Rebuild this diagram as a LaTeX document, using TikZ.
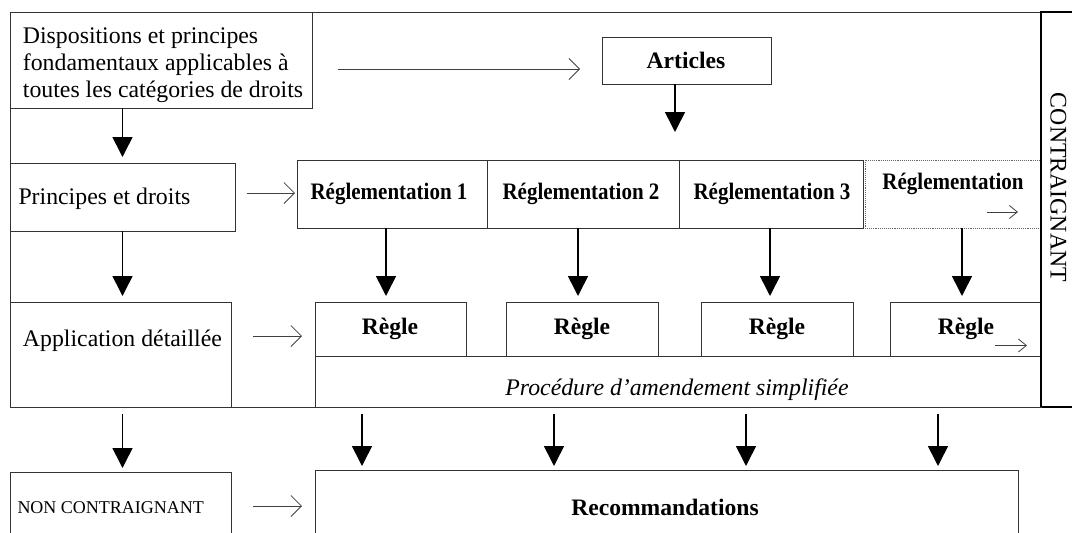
\documentclass[tikz,border=0pt]{standalone}
\usepackage{fontspec}
\setmainfont{Liberation Serif}
\newfontfamily\condserif[FakeStretch=0.89]{Liberation Serif}
\usetikzlibrary{arrows.meta}
\tikzset{
  box/.style={draw=black!80, line width=0.9pt, inner sep=0pt, outer sep=0pt, anchor=north west},
  txt/.style={inner sep=0pt, font=\fontsize{23.8}{27}\selectfont},
  btxt/.style={inner sep=0pt, font=\fontsize{23.6}{27}\selectfont\bfseries},
  rtxt/.style={inner sep=0pt, font=\fontsize{23.6}{27}\condserif\bfseries},
  downarr/.style={line width=1.6pt, black, -{Triangle[length=20pt,width=20pt]}},
  openarr/.style={line width=0.8pt, black!75, -{Straight Barb[length=10.5pt,width=21pt,line width=0.8pt]}},
  smallarr/.style={line width=0.8pt, black!75, -{Straight Barb[length=8pt,width=13pt,line width=0.8pt]}},
}
\begin{document}
\begin{tikzpicture}[x=1pt,y=-1pt]
\useasboundingbox (0,0) rectangle (1072,533);
\clip (0,0) rectangle (1072,533);
% outer frame
\node[box, minimum width=1031pt, minimum height=395pt] (frame) at (10,12) {};
\node[box, draw=black, line width=1.8pt, minimum width=60pt, minimum height=395pt] (contr) at (1041,12) {};
% boxes
\node[box, minimum width=302pt, minimum height=96pt] (disp) at (10,12) {};
\node[box, minimum width=169pt, minimum height=47pt] (art) at (602,37) {};
\node[box, minimum width=225pt, minimum height=68pt] (prin) at (10,163) {};
\node[box, minimum width=190pt, minimum height=68pt] (reg1) at (297,160) {};
\node[box, minimum width=192pt, minimum height=68pt] (reg2) at (487,160) {};
\node[box, minimum width=184pt, minimum height=68pt] (reg3) at (679,160) {};
\node[box, draw=black!60, densely dotted, minimum width=176pt, minimum height=68pt] (reg4) at (865,160) {};
\node[box, minimum width=221pt, minimum height=105pt] (app) at (10,302) {};
\node[box, minimum width=151pt, minimum height=54pt] (rgl1) at (315,302) {};
\node[box, minimum width=152pt, minimum height=54pt] (rgl2) at (506,302) {};
\node[box, minimum width=152pt, minimum height=54pt] (rgl3) at (701,302) {};
\node[box, minimum width=151pt, minimum height=54pt] (rgl4) at (890,302) {};
\node[box, minimum width=726pt, minimum height=51pt] (proc) at (315,356) {};
\node[box, minimum width=221pt, minimum height=90pt] (non) at (10,472) {};
\node[box, minimum width=703pt, minimum height=90pt] (rec) at (315,470) {};
\draw[draw=black, line width=1.8pt] (contr.north west) -- (contr.south west);
% texts
\node[txt, anchor=base west] (t1) at (22.7,43) {Dispositions et principes};
\node[txt, anchor=base west] (t2) at (22.7,70) {fondamentaux applicables à};
\node[txt, anchor=base west] (t3) at (22.7,97) {toutes les catégories de droits};
\node[btxt, anchor=base] (tart) at (686,68) {Articles};
\node[txt, anchor=base west] (tprin) at (18.3,204) {Principes et droits};
\node[rtxt, anchor=base] (tr1) at (389,199.5) {Réglementation 1};
\node[rtxt, anchor=base] (tr2) at (581,199.5) {Réglementation 2};
\node[rtxt, anchor=base] (tr3) at (772,199.5) {Réglementation 3};
\node[rtxt, anchor=base] (tr4) at (953,189.5) {Réglementation};
\node[txt, anchor=base west] (tapp) at (22.8,346) {Application détaillée};
\node[btxt, anchor=base] (tg1) at (390,334) {Règle};
\node[btxt, anchor=base] (tg2) at (582,334) {Règle};
\node[btxt, anchor=base] (tg3) at (777,334) {Règle};
\node[btxt, anchor=base] (tg4) at (966,334) {Règle};
\node[txt, anchor=base, font=\fontsize{23.8}{27}\selectfont\itshape] (tproc) at (677,395) {Procédure d’amendement simplifiée};
\node[txt, anchor=base west, font=\fontsize{18}{20}\selectfont] (tnon) at (17.3,513) {NON CONTRAIGNANT};
\node[btxt, anchor=base] (trec) at (665,515) {Recommandations};
\node[txt, anchor=base, rotate=-90] (tcon) at (1050.5,187.5) {CONTRAIGNANT};
% arrows
\draw[downarr, shorten >=6pt] (prin.north |- disp.south) -- (prin.north);
\draw[openarr, shorten <=26pt, shorten >=22pt] ([yshift=-9pt]disp.east) -- ([yshift=-8.5pt]art.west);
\coordinate (arttip) at (675,132);
\draw[downarr] ([xshift=-11.5pt]art.south) -- (arttip);
\draw[openarr, shorten <=11.7pt, shorten >=2pt] ([yshift=4pt]prin.east) -- ([yshift=1pt]reg1.west);
\draw[downarr, shorten >=6pt] ([xshift=-6pt]reg1.south) -- ([xshift=-6pt]reg1.south |- rgl1.north);
\draw[downarr, shorten >=6pt] ([xshift=-5pt]reg2.south) -- ([xshift=-5pt]reg2.south |- rgl2.north);
\draw[downarr, shorten >=6pt] ([xshift=-1pt]reg3.south) -- ([xshift=-1pt]reg3.south |- rgl3.north);
\draw[downarr, shorten >=6pt] ([xshift=9pt]reg4.south) -- ([xshift=9pt]reg4.south |- rgl4.north);
\draw[downarr, shorten >=6pt] (prin.south) -- (prin.south |- app.north);
\draw[openarr, shorten <=22pt, shorten >=13pt] ([yshift=18.5pt]app.east) -- ([yshift=-7pt]rgl1.west);
\draw[downarr, shorten <=7pt, shorten >=4pt] ([xshift=2pt]app.south) -- ([xshift=2pt]non.north);
\draw[downarr, shorten <=7pt, shorten >=4pt] ([xshift=-316pt]proc.south) -- ([xshift=-316pt]proc.south |- rec.north);
\draw[downarr, shorten <=7pt, shorten >=4pt] ([xshift=-124pt]proc.south) -- ([xshift=-124pt]proc.south |- rec.north);
\draw[downarr, shorten <=7pt, shorten >=4pt] ([xshift=68pt]proc.south) -- ([xshift=68pt]proc.south |- rec.north);
\draw[downarr, shorten <=7pt, shorten >=4pt] ([xshift=260pt]proc.south) -- ([xshift=260pt]proc.south |- rec.north);
\draw[openarr, shorten <=22pt, shorten >=13pt] ([yshift=-34pt]non.north east) -- ([yshift=9pt]rec.west);
\coordinate (sa1) at (987,212); \coordinate (sa2) at (1018,212);
\coordinate (sb1) at (995,345.5); \coordinate (sb2) at (1027,345.5);
\draw[smallarr] (sa1) -- (sa2);
\draw[smallarr] (sb1) -- (sb2);
\end{tikzpicture}
\end{document}
